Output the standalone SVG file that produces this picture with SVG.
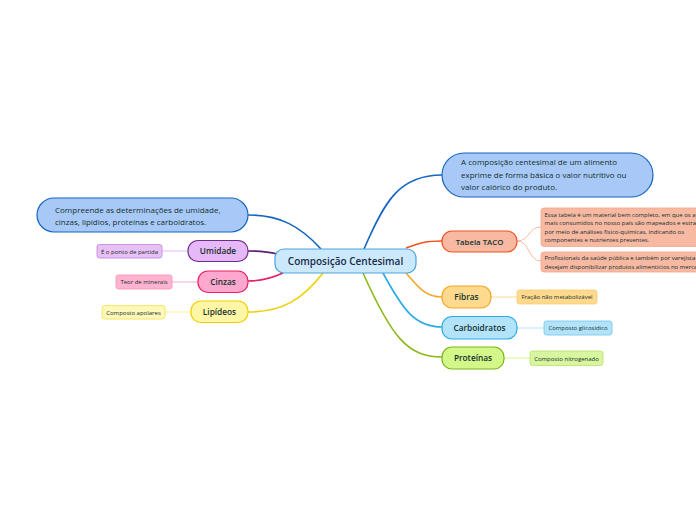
<svg xmlns="http://www.w3.org/2000/svg" width="696" height="520" viewBox="0 0 696 520">
<style>
text{font-family:"Open Sans","Noto Sans","DejaVu Sans",sans-serif;fill:#12302a}
.n{font-size:8.3px;text-anchor:middle;font-weight:600}
.c{font-size:6px;text-anchor:middle}
.d{font-size:6px}
.l{font-size:8px;font-weight:500}
.e{fill:none;stroke-width:1.6}
.s{fill:none;stroke-width:1}
</style>
<rect width="696" height="520" fill="#ffffff"/>
<g id="connectors">
<path class="e" stroke="#1565c0" d="M364,249 C385,200 400,175 442,175"/>
<path class="e" stroke="#f4511e" d="M406,248 C420,243 425,241 442,241"/>
<path class="e" stroke="#f5a623" d="M406,273 C420,289 426,297 442,297"/>
<path class="e" stroke="#29abe2" d="M383,273 C403,310 415,327 442,327"/>
<path class="e" stroke="#8ab916" d="M363,273 C392,338 408,357 442,357"/>
<path class="e" stroke="#1565c0" d="M321,249 C300,226 280,215 248,215"/>
<path class="e" stroke="#5c1f73" d="M277,254 C266,251 258,251 248,251"/>
<path class="e" stroke="#e91e63" d="M283,273 C270,279 260,281 248,281"/>
<path class="e" stroke="#f0d000" d="M323,273 C302,300 282,312 248,312"/>
<path class="s" stroke="#f8b9a3" d="M517,241 C530,241 528,227 541,227"/>
<path class="s" stroke="#f8b9a3" d="M517,241 C530,241 528,261 541,261"/>
<path class="s" stroke="#ffd98e" d="M491,297 L517,297"/>
<path class="s" stroke="#b3e3fb" d="M517,328 L544,328"/>
<path class="s" stroke="#d4f78a" d="M504,358 L530,358"/>
<path class="s" stroke="#e6b8f7" d="M188,251 L162,251"/>
<path class="s" stroke="#ffa8cf" d="M198,282 L172,282"/>
<path class="s" stroke="#fff29a" d="M191,312 L165,312"/>
</g>
<g id="central">
<rect x="275" y="249" width="141" height="24" rx="9" fill="#cce9fb" stroke="#4aa3df" stroke-width="1.2"/>
<text x="345.5" y="264.5" style="font-size:10px;text-anchor:middle;font-weight:600;fill:#1a2a4a">Composição Centesimal</text>
</g>
<g id="definicao">
<rect x="442" y="153" width="211" height="44" rx="22" fill="#a8c9f8" stroke="#1565c0" stroke-width="1.2"/>
<text class="l" x="461" y="165" textLength="156" lengthAdjust="spacing">A composição centesimal de um alimento</text>
<text class="l" x="461" y="177.5">exprime de forma básica o valor nutritivo ou</text>
<text class="l" x="461" y="190">valor calórico do produto.</text>
</g>
<g id="compreende">
<rect x="37" y="198" width="211" height="34" rx="17" fill="#a8c9f8" stroke="#1565c0" stroke-width="1.2"/>
<text class="l" x="55" y="213">Compreende as determinações de umidade,</text>
<text class="l" x="55" y="225">cinzas, lipídios, proteínas e carboidratos.</text>
</g>
<g id="umidade">
<rect x="188" y="240.5" width="60" height="21" rx="10" fill="#e6b8f7" stroke="#6b2e8a" stroke-width="1.2"/>
<text class="n" x="218" y="254">Umidade</text>
</g>
<g id="umidade-nota">
<rect x="97" y="244.5" width="65" height="13.5" rx="2.5" fill="#e8c0f5" stroke="#c27ee0" stroke-width="0.8"/>
<text class="c" x="129.5" y="253.5">É o ponto de partida</text>
</g>
<g id="cinzas">
<rect x="198" y="271" width="50" height="21.5" rx="10" fill="#ffa8cf" stroke="#e91e63" stroke-width="1.2"/>
<text class="n" x="223" y="285">Cinzas</text>
</g>
<g id="cinzas-nota">
<rect x="116" y="275" width="56" height="14" rx="2.5" fill="#ffb3d1" stroke="#f48fb1" stroke-width="0.8"/>
<text class="c" x="144" y="284">Teor de minerais</text>
</g>
<g id="lipideos">
<rect x="191" y="301" width="57" height="21.5" rx="10" fill="#fff6a6" stroke="#f0d000" stroke-width="1.2"/>
<text class="n" x="219.5" y="315">Lipídeos</text>
</g>
<g id="lipideos-nota">
<rect x="102" y="305.5" width="63" height="13.5" rx="2.5" fill="#fff8b8" stroke="#f5e050" stroke-width="0.8"/>
<text class="c" x="133.5" y="314.5">Composto apolares</text>
</g>
<g id="tabela">
<rect x="442" y="231" width="75" height="21" rx="10" fill="#f8b9a3" stroke="#f4511e" stroke-width="1.2"/>
<text class="n" x="479.5" y="244.5" style="font-size:7.8px">Tabela TACO</text>
</g>
<g id="tabela-nota1">
<rect x="541" y="208" width="170" height="38.5" rx="3" fill="#f8b9a3" stroke="#f7a58a" stroke-width="0.8"/>
<text class="d" x="544.5" y="216.5">Essa tabela é um material bem completo, em que os a</text>
<text class="d" x="544.5" y="225">mais consumidos no nosso país são mapeados e estra</text>
<text class="d" x="544.5" y="233.5">por meio de análises físico-químicas, indicando os</text>
<text class="d" x="544.5" y="242">componentes e nutrientes presentes.</text>
</g>
<g id="tabela-nota2">
<rect x="541" y="252" width="170" height="20" rx="3" fill="#f8b9a3" stroke="#f7a58a" stroke-width="0.8"/>
<text class="d" x="544.5" y="260">Profissionais da saúde pública e também por varejista</text>
<text class="d" x="544.5" y="269">desejam disponibilizar produtos alimentícios no merca</text>
</g>
<g id="fibras">
<rect x="442" y="286" width="49" height="22" rx="10" fill="#ffd98e" stroke="#f5a623" stroke-width="1.2"/>
<text class="n" x="466.5" y="300">Fibras</text>
</g>
<g id="fibras-nota">
<rect x="517" y="290" width="80" height="14" rx="2.5" fill="#ffd98e" stroke="#f8cc70" stroke-width="0.8"/>
<text class="c" x="557" y="299">Fração não metabolizável</text>
</g>
<g id="carboidratos">
<rect x="442" y="316.5" width="75" height="22.5" rx="10" fill="#b3e3fb" stroke="#29abe2" stroke-width="1.2"/>
<text class="n" x="479.5" y="331">Carboidratos</text>
</g>
<g id="carboidratos-nota">
<rect x="544" y="321" width="68" height="14" rx="2.5" fill="#b3e3fb" stroke="#6ec6f0" stroke-width="0.8"/>
<text class="c" x="578" y="330">Composto glicosídico</text>
</g>
<g id="proteinas">
<rect x="442" y="347" width="62" height="22" rx="10" fill="#d4f78a" stroke="#7cb518" stroke-width="1.2"/>
<text class="n" x="473" y="361">Proteínas</text>
</g>
<g id="proteinas-nota">
<rect x="530" y="351" width="73" height="14.5" rx="2.5" fill="#d8f5a0" stroke="#b8e068" stroke-width="0.8"/>
<text class="c" x="566.5" y="360.5">Composto nitrogenado</text>
</g>
</svg>
